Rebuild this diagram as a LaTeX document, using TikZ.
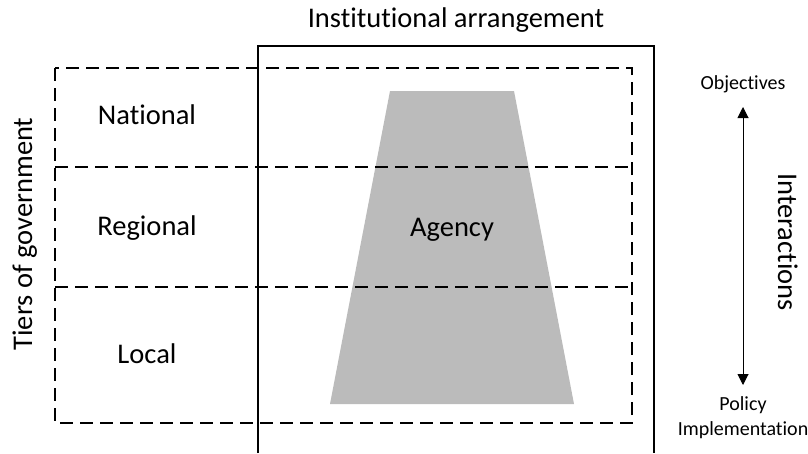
\documentclass[tikz,border=0pt]{standalone}
\usepackage{fontspec}
\setmainfont{Carlito}[Ligatures=CommonOff]
\usetikzlibrary{arrows.meta,positioning}
\definecolor{agencygray}{HTML}{BBBBBB}

\begin{document}
\begin{tikzpicture}[%
x=1pt, y=-1pt,
>={Triangle[length=11pt,width=11pt]},
label/.style={font=\fontsize{28.5}{32}\selectfont, anchor=base, inner sep=0pt},
small/.style={font=\fontsize{20}{23}\selectfont, anchor=base, inner sep=0pt},
frame/.style={line width=1.6pt},
tierline/.style={line width=1.6pt, dash pattern=on 13pt off 7pt}
]
\useasboundingbox (0,0) rectangle (808,453);

% institutional arrangement
\draw[frame] (258,453) -- (258,46) -- (654,46) -- (654,453);
\node[label] (inst) at (456,27) {Institutional arrangement};

% agency
\fill[agencygray] (390,91) -- (514,91) -- (574,404) -- (330,404) -- cycle;
\node[label] (agency) at (452,236) {Agency};

% tiers of government
\draw[tierline] (55,68) rectangle (632,423);
\draw[tierline] (55,167) -- (632,167);
\draw[tierline] (55,287) -- (632,287);
\node[label] (national) at (147,124) {National};
\node[label] (regional) at (147,235) {Regional};
\node[label] (local) at (147,363) {Local};
\node[label, rotate=90] (tiers) at (32,234) {Tiers of government};

% interactions
\node[small] (obj) at (743,89) {Objectives};
\node[small] (policy) at (743,410) {Policy};
\node[small] (impl) at (743,435) {Implementation};
\draw[<->, line width=1pt] ([yshift=-18pt]obj.base) -- ([yshift=25pt]policy.base);
\node[label, rotate=-90] (inter) at (778,242) {Interactions};
\end{tikzpicture}
\end{document}
